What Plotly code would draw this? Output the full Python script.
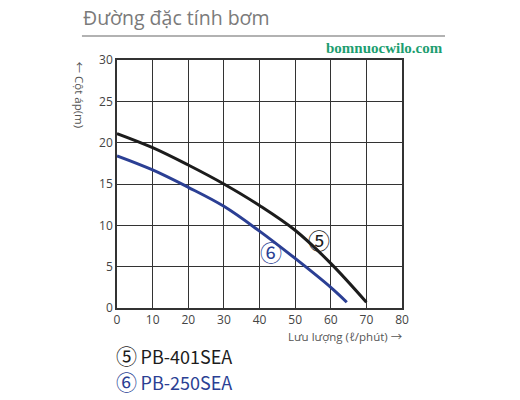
import plotly.graph_objects as go

# flow (l/min) vs head (m)
flow_401 = [0, 10, 20, 30, 40, 50, 60, 70]
head_401 = [21.1, 19.4, 17.3, 15.0, 12.4, 9.4, 5.4, 0.7]

flow_250 = [0, 10, 20, 30, 40, 50, 60, 64.5]
head_250 = [18.4, 16.7, 14.6, 12.3, 9.3, 6.0, 2.5, 0.7]

x_ticks = [0, 10, 20, 30, 40, 50, 60, 70, 80]
y_ticks = [0, 5, 10, 15, 20, 25, 30]

BLACK = "#1c1c1c"
BLUE = "#2b3f94"
FONT = "Open Sans, Noto Sans, Noto Sans CJK JP, sans-serif"

fig = go.Figure()
fig.add_trace(go.Scatter(x=flow_401, y=head_401, mode="lines", line_shape="spline",
                         line=dict(color=BLACK, width=3), hoverinfo="skip"))
fig.add_trace(go.Scatter(x=flow_250, y=head_250, mode="lines", line_shape="spline",
                         line=dict(color=BLUE, width=3), hoverinfo="skip"))

fig.update_layout(
    width=520, height=400,
    margin=dict(l=117, r=118, t=60, b=92, autoexpand=False),
    plot_bgcolor="white", paper_bgcolor="white",
    showlegend=False,
    font=dict(family=FONT, size=12, color="#444444"),
)
axis_style = dict(showgrid=True, gridcolor="#333333", gridwidth=1,
                  showline=True, linecolor="#333333", linewidth=1.5, mirror=True,
                  zeroline=False, ticks="", fixedrange=True)
fig.update_xaxes(range=[0, 80], tickvals=x_ticks, **axis_style)
fig.update_yaxes(range=[0, 30], tickvals=y_ticks, **axis_style)

# curve labels
fig.add_annotation(x=56.7, y=8.3, text="⑤", showarrow=False,
                   font=dict(family="Noto Sans CJK JP", size=22, color=BLACK))
fig.add_annotation(x=43.1, y=6.9, text="⑥", showarrow=False,
                   font=dict(family="Noto Sans CJK JP", size=22, color=BLUE))

# title and header line
fig.add_annotation(xref="paper", yref="paper", x=-0.125, y=1.173, xanchor="left", yanchor="middle",
                   text="Đường đặc tính bơm", showarrow=False,
                   font=dict(family=FONT, size=19.5, color="#7a7a7a"))
fig.add_shape(type="line", xref="paper", yref="paper", x0=-0.123, x1=1.151, y0=1.097, y1=1.097,
              line=dict(color="#999999", width=1.5))
fig.add_annotation(xref="paper", yref="paper", x=1.151, y=1.048, xanchor="right", yanchor="middle",
                   text="<b>bomnuocwilo.com</b>", showarrow=False,
                   font=dict(family="Liberation Serif", size=15, color="#1d9e70"))

# axis titles
fig.add_annotation(xref="paper", yref="paper", x=-0.13, y=1.0, xanchor="center", yanchor="top",
                   text="← Cột áp(m)", textangle=90, showarrow=False,
                   font=dict(family=FONT, size=11.5, color="#555555"))
fig.add_annotation(xref="paper", yref="paper", x=1.01, y=-0.115, xanchor="right", yanchor="middle",
                   text="Lưu lượng (ℓ/phút) →", showarrow=False,
                   font=dict(family=FONT, size=11.5, color="#555555"))

# model legend
fig.add_annotation(xref="paper", yref="paper", x=-0.01, y=-0.19, xanchor="left", yanchor="middle",
                   text="<span style='font-size:21px'>⑤</span>\u2009PB-401SEA", showarrow=False,
                   font=dict(family="Noto Sans CJK JP", size=18, color=BLACK))
fig.add_annotation(xref="paper", yref="paper", x=-0.01, y=-0.295, xanchor="left", yanchor="middle",
                   text="<span style='font-size:21px'>⑥</span>\u2009PB-250SEA", showarrow=False,
                   font=dict(family="Noto Sans CJK JP", size=18, color=BLUE))

fig.write_html("out.html", config={"displayModeBar": False},
               post_script="document.body.style.margin='0';")
